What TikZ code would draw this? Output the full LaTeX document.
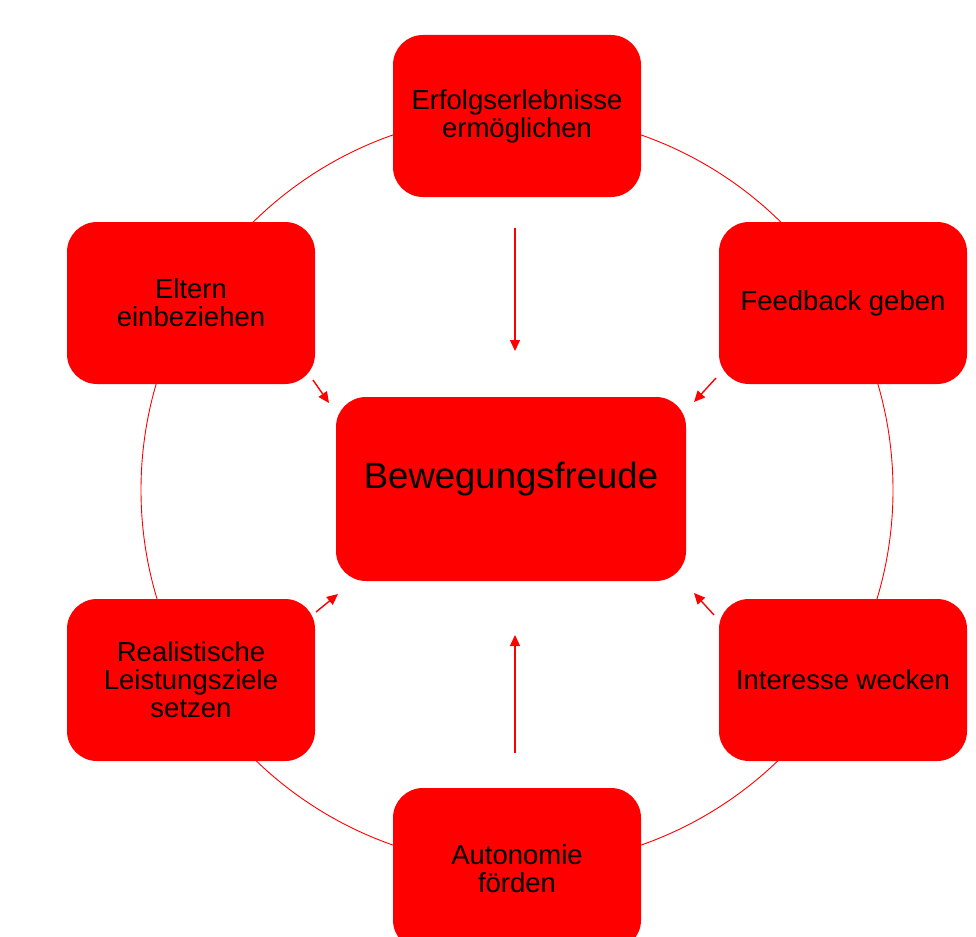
\documentclass[tikz,border=0pt]{standalone}
\usepackage{fontspec}
\setmainfont{Liberation Sans}
\usetikzlibrary{arrows.meta}
\definecolor{boxred}{RGB}{255,0,0}
\tikzset{
  stepbox/.style={fill=boxred, draw=none, rounded corners=30pt, minimum width=248pt, minimum height=162pt, align=center, font=\fontsize{27.5}{28}\selectfont, text=black, inner sep=0pt},
  centerbox/.style={stepbox, minimum width=350pt, minimum height=184pt, font=\fontsize{36.5}{40}\selectfont},
  ring/.style={draw=boxred, line width=0.9pt},
  arr/.style={draw=boxred, line width=1.4pt, -{Triangle[length=11pt,width=10pt]}}
}
\begin{document}
\begin{tikzpicture}[x=1pt,y=-1pt]
\useasboundingbox (0,0) rectangle (976,936);
\draw[ring] (517,490) circle[radius=376];
\node[stepbox] (top) at (517,116) {Erfolgserlebnisse\\ermöglichen};
\node[stepbox] (ul) at (191,303) {Eltern\\einbeziehen};
\node[stepbox] (ur) at (843,303) {Feedback geben};
\node[centerbox] (c) at (511,489) {\raisebox{28pt}{Bewegungsfreude}};
\node[stepbox] (ll) at (191,680) {Realistische\\Leistungsziele\\setzen};
\node[stepbox] (lr) at (843,680) {Interesse wecken};
\node[stepbox] (bot) at (517,869) {Autonomie\\förden};
\coordinate (a1s) at (515,228); \coordinate (a1e) at (515,351);
\coordinate (a2s) at (515,753); \coordinate (a2e) at (515,635);
\coordinate (a3s) at (313,380); \coordinate (a3e) at (329,403);
\coordinate (a4s) at (716,378); \coordinate (a4e) at (694,402);
\coordinate (a5s) at (316,612); \coordinate (a5e) at (338,594);
\coordinate (a6s) at (714,615); \coordinate (a6e) at (694,593);
\draw[arr] (a1s) -- (a1e);
\draw[arr] (a2s) -- (a2e);
\draw[arr] (a3s) -- (a3e);
\draw[arr] (a4s) -- (a4e);
\draw[arr] (a5s) -- (a5e);
\draw[arr] (a6s) -- (a6e);
\end{tikzpicture}
\end{document}
